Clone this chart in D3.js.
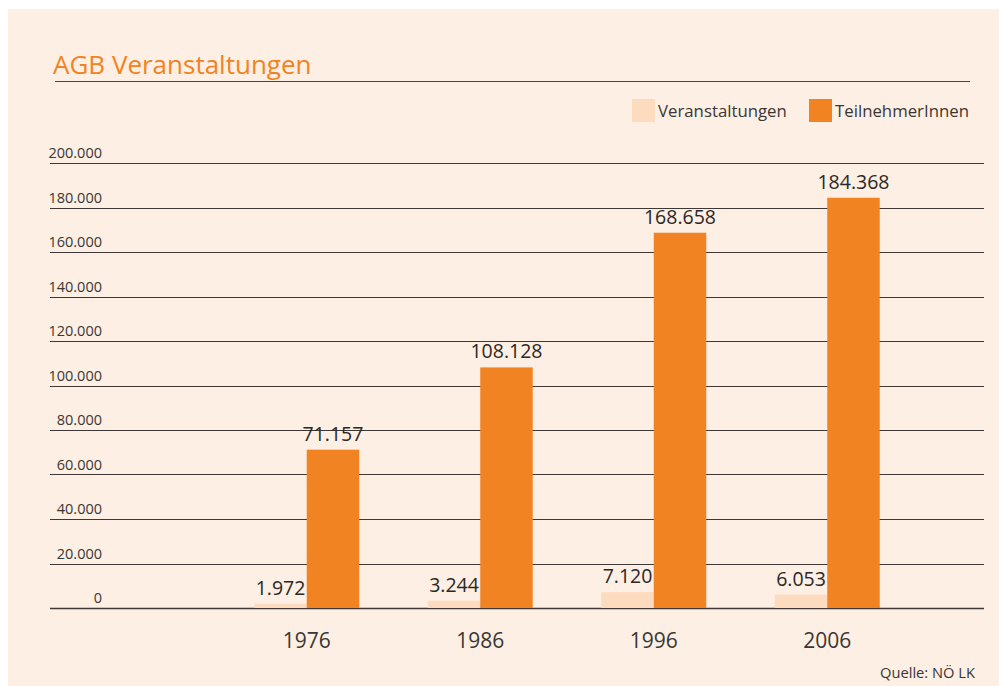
<!DOCTYPE html>
<html>
<head>
<meta charset="utf-8">
<script src="https://cdn.jsdelivr.net/npm/d3@7"></script>
<style>
  html, body { margin: 0; padding: 0; background: #fff; }
  svg { display: block; font-family: "Open Sans", "Noto Sans", sans-serif; }
</style>
</head>
<body>
<svg id="chart" width="999" height="686"></svg>
<script>
const years = ["1976", "1986", "1996", "2006"];
const seriesNames = ["Veranstaltungen", "TeilnehmerInnen"];
const veranstaltungen = [1972, 3244, 7120, 6053];
const teilnehmer = [71157, 108128, 168658, 184368];
const yTicks = [0, 20000, 40000, 60000, 80000, 100000, 120000, 140000, 160000, 180000, 200000];

const colors = { Veranstaltungen: "#fddbbe", TeilnehmerInnen: "#f28322" };

const de = d3.formatLocale({ decimal: ",", thousands: ".", grouping: [3], currency: ["", "€"] });
const fmt = de.format(",d");

const svg = d3.select("#chart");

// background panel
svg.append("rect")
    .attr("x", 8).attr("y", 9)
    .attr("width", 991).attr("height", 677)
    .attr("fill", "#fdefe3");

// title
svg.append("text")
    .attr("x", 53).attr("y", 74)
    .attr("fill", "#f28322")
    .style("font-size", "26px")
    .text("AGB Veranstaltungen");

svg.append("line")
    .attr("x1", 55).attr("x2", 970)
    .attr("y1", 81.5).attr("y2", 81.5)
    .attr("stroke", "#4a4440").attr("stroke-width", 1.2);

const y = d3.scaleLinear().domain([0, 200000]).range([608, 163]);

const x0 = d3.scaleBand().domain(years).range([220, 914]).paddingInner(0.395).paddingOuter(0.1975);
const x1 = d3.scaleBand().domain(seriesNames).range([0, x0.bandwidth()]);

// gridlines and tick labels
const grid = svg.append("g");
grid.selectAll("line")
    .data(yTicks)
    .enter()
    .append("line")
    .attr("x1", 50).attr("x2", 984)
    .attr("y1", (d) => Math.round(y(d)) + 0.5)
    .attr("y2", (d) => Math.round(y(d)) + 0.5)
    .attr("stroke", "#3d3835")
    .attr("stroke-width", (d) => d === 0 ? 1.6 : 1.1);

grid.selectAll("text")
    .data(yTicks)
    .enter()
    .append("text")
    .attr("x", 102)
    .attr("y", (d) => y(d) - 5)
    .attr("text-anchor", "end")
    .attr("fill", "#3a3633")
    .style("font-size", "14.5px")
    .text((d) => fmt(d));

// bars
const rows = years.map((yr, i) => ({
    year: yr,
    values: [
        { name: "Veranstaltungen", value: veranstaltungen[i] },
        { name: "TeilnehmerInnen", value: teilnehmer[i] }
    ]
}));

const groups = svg.selectAll("g.year")
    .data(rows)
    .enter()
    .append("g")
    .attr("class", "year")
    .attr("transform", (d) => "translate(" + x0(d.year) + ",0)");

groups.selectAll("rect")
    .data((d) => d.values)
    .enter()
    .append("rect")
    .attr("x", (d) => x1(d.name))
    .attr("width", x1.bandwidth())
    .attr("y", (d) => y(d.value))
    .attr("height", (d) => y(0) - y(d.value))
    .attr("fill", (d) => colors[d.name]);

groups.selectAll("text.val")
    .data((d) => d.values)
    .enter()
    .append("text")
    .attr("class", "val")
    .attr("x", (d) => x1(d.name) + x1.bandwidth() / 2)
    .attr("y", (d) => y(d.value) - 9)
    .attr("text-anchor", "middle")
    .attr("fill", "#2b2826")
    .style("font-size", "19.5px")
    .text((d) => fmt(d.value));

// year labels
svg.selectAll("text.yr")
    .data(years)
    .enter()
    .append("text")
    .attr("class", "yr")
    .attr("x", (d) => x0(d) + x0.bandwidth() / 2)
    .attr("y", 648)
    .attr("text-anchor", "middle")
    .attr("fill", "#3a3633")
    .style("font-size", "21px")
    .text((d) => d);

// legend
const legendX = [632, 809];
const legend = svg.selectAll("g.legend")
    .data(seriesNames)
    .enter()
    .append("g")
    .attr("class", "legend")
    .attr("transform", (d, i) => "translate(" + legendX[i] + ",99)");

legend.append("rect")
    .attr("width", 23).attr("height", 23)
    .attr("fill", (d) => colors[d]);

legend.append("text")
    .attr("x", 26).attr("y", 18)
    .attr("fill", "#3a3633")
    .style("font-size", "16.8px")
    .text((d) => d);

// source
svg.append("text")
    .attr("x", 975).attr("y", 678)
    .attr("text-anchor", "end")
    .attr("fill", "#3a3633")
    .style("font-size", "14.7px")
    .text("Quelle: NÖ LK");
</script>
</body>
</html>
